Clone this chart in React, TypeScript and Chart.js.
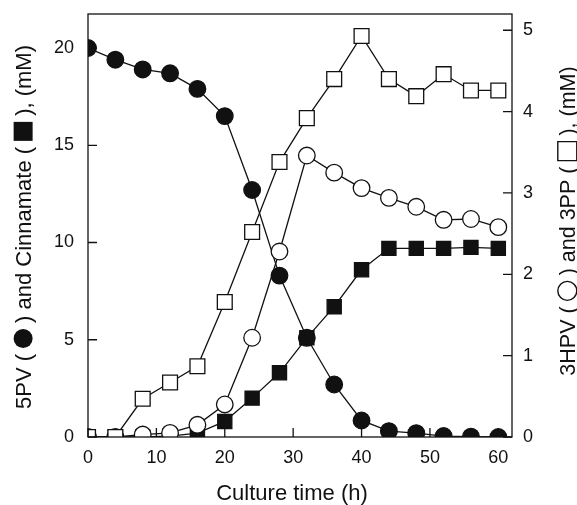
import React, { useEffect, useRef } from "react";
import { Chart, registerables } from "chart.js";

Chart.register(...registerables);

const timeH = [0, 4, 8, 12, 16, 20, 24, 28, 32, 36, 40, 44, 48, 52, 56, 60];
const pv5 = [20.0, 19.4, 18.9, 18.7, 17.9, 16.5, 12.7, 8.3, 5.1, 2.7, 0.85, 0.3, 0.2, 0.05, 0.02, 0.0];
const cinnamate = [0, 0, 0, 0.05, 0.2, 0.8, 2.0, 3.3, 5.1, 6.7, 8.6, 9.7, 9.7, 9.7, 9.75, 9.7];
const hpv3 = [0, 0, 0.03, 0.05, 0.15, 0.4, 1.22, 2.28, 3.46, 3.25, 3.06, 2.94, 2.83, 2.67, 2.68, 2.58];
const pp3 = [0, 0, 0.47, 0.67, 0.87, 1.66, 2.52, 3.38, 3.92, 4.4, 4.93, 4.4, 4.19, 4.46, 4.26, 4.26];

const xTicks = [0, 10, 20, 30, 40, 50, 60];
const leftTicks = [0, 5, 10, 15, 20];
const rightTicks = [0, 1, 2, 3, 4, 5];

const xTitle = "Culture time (h)";
// Axis titles: text pieces with the legend symbols drawn between them
const leftTitleParts: any[] = ["5PV (", { shape: "circle", fill: true }, ") and Cinnamate (", { shape: "square", fill: true }, "), (mM)"];
const rightTitleParts: any[] = ["3HPV (", { shape: "circle", fill: false }, ") and 3PP (", { shape: "square", fill: false }, "), (mM)"];

const FONT = "'Liberation Sans', Arial, sans-serif";
const INK = "#111";

const pts = (ys: number[]) => timeH.map((t, i) => ({ x: t, y: ys[i] }));

const SYM = 19;
const SYM_GAP = 6;

function drawRichTitle(ctx: any, parts: any[], cx: number, baseX: number, size: number) {
  ctx.save();
  ctx.font = `${size}px ${FONT}`;
  ctx.textAlign = "left";
  ctx.textBaseline = "alphabetic";
  const capH = size * 0.716;
  const widths = parts.map((p) => (typeof p === "string" ? ctx.measureText(p).width : SYM + 2 * SYM_GAP));
  const total = widths.reduce((a: number, b: number) => a + b, 0);
  ctx.translate(baseX, cx);
  ctx.rotate(-Math.PI / 2);
  let x = -total / 2;
  parts.forEach((p, i) => {
    if (typeof p === "string") {
      ctx.fillStyle = INK;
      ctx.fillText(p, x, 0);
    } else {
      const mx = x + SYM_GAP + SYM / 2;
      const my = -capH / 2;
      ctx.beginPath();
      if (p.shape === "circle") {
        ctx.arc(mx, my, SYM / 2, 0, Math.PI * 2);
      } else {
        ctx.rect(mx - SYM / 2, my - SYM / 2, SYM, SYM);
      }
      if (p.fill) {
        ctx.fillStyle = INK;
        ctx.fill();
      } else {
        ctx.strokeStyle = INK;
        ctx.lineWidth = 1.4;
        ctx.stroke();
      }
    }
    x += widths[i];
  });
  ctx.restore();
}

const framePlugin = {
  id: "frame",
  afterDraw(chart: any) {
    const { ctx, chartArea: a, scales } = chart;
    ctx.save();
    ctx.strokeStyle = INK;
    ctx.lineWidth = 1.3;
    ctx.strokeRect(a.left, a.top, a.right - a.left, a.bottom - a.top);
    ctx.beginPath();
    for (const v of xTicks) {
      const px = scales.x.getPixelForValue(v);
      ctx.moveTo(px, a.bottom);
      ctx.lineTo(px, a.bottom - 9);
    }
    for (const v of leftTicks) {
      const py = scales.y.getPixelForValue(v);
      ctx.moveTo(a.left, py);
      ctx.lineTo(a.left + 9, py);
    }
    for (const v of rightTicks) {
      const py = scales.y2.getPixelForValue(v);
      ctx.moveTo(a.right, py);
      ctx.lineTo(a.right - 9, py);
    }
    ctx.stroke();

    ctx.fillStyle = INK;
    ctx.font = `22px ${FONT}`;
    ctx.textAlign = "center";
    ctx.textBaseline = "alphabetic";
    ctx.fillText(xTitle, 292, 500);
    ctx.restore();

    drawRichTitle(ctx, leftTitleParts, 227, 31, 22);
    drawRichTitle(ctx, rightTitleParts, 221, 575, 21.5);
  },
};

const noPad = (s: any) => {
  s.paddingTop = 0;
  s.paddingBottom = 0;
  s.paddingLeft = 0;
  s.paddingRight = 0;
};

export default function App() {
  const ref = useRef<HTMLCanvasElement | null>(null);
  useEffect(() => {
    if (!ref.current) return;
    const common = {
      borderColor: INK,
      borderWidth: 1.3,
      pointBorderColor: INK,
      pointBorderWidth: 1.3,
      showLine: true,
      tension: 0,
    };
    const tickFont = { family: FONT, size: 18 };
    const chart = new Chart(ref.current, {
      type: "scatter",
      data: {
        datasets: [
          { ...common, label: "3PP", data: pts(pp3), yAxisID: "y2", pointStyle: "rect", pointRadius: 10.5, pointBackgroundColor: "#fff" },
          { ...common, label: "3HPV", data: pts(hpv3), yAxisID: "y2", pointStyle: "circle", pointRadius: 8.3, pointBackgroundColor: "#fff" },
          { ...common, label: "5PV", data: pts(pv5), yAxisID: "y", pointStyle: "circle", pointRadius: 8.3, pointBackgroundColor: INK },
          { ...common, label: "Cinnamate", data: pts(cinnamate), yAxisID: "y", pointStyle: "rect", pointRadius: 10, pointBackgroundColor: INK },
        ],
      },
      options: {
        responsive: false,
        animation: false,
        layout: { padding: { top: 14, left: 0, right: 0, bottom: 0 } },
        plugins: { legend: { display: false }, tooltip: { enabled: false } },
        scales: {
          x: {
            type: "linear",
            min: 0,
            max: 62,
            grid: { display: false, drawTicks: false },
            border: { display: false },
            ticks: { stepSize: 10, padding: 10, color: INK, font: tickFont },
            afterBuildTicks: (s: any) => { s.ticks = xTicks.map((v) => ({ value: v })); },
            afterFit: (s: any) => { s.height = 68; noPad(s); },
          },
          y: {
            type: "linear",
            position: "left",
            min: 0,
            max: 21.75,
            grid: { display: false, drawTicks: false },
            border: { display: false },
            ticks: { stepSize: 5, padding: 14, color: INK, font: tickFont },
            afterBuildTicks: (s: any) => { s.ticks = leftTicks.map((v) => ({ value: v })); },
            afterFit: (s: any) => { s.width = 88; noPad(s); },
          },
          y2: {
            type: "linear",
            position: "right",
            min: 0,
            max: 5.2,
            grid: { display: false, drawTicks: false },
            border: { display: false },
            ticks: { stepSize: 1, padding: 11, color: INK, font: tickFont },
            afterBuildTicks: (s: any) => { s.ticks = rightTicks.map((v) => ({ value: v })); },
            afterFit: (s: any) => { s.width = 65; noPad(s); },
          },
        },
      },
      plugins: [framePlugin],
    } as any);
    return () => chart.destroy();
  }, []);
  return (
    <div style={{ position: "absolute", left: 0, top: 0, width: 577, height: 505, background: "#fff" }}>
      <canvas ref={ref} width={577} height={505} />
    </div>
  );
}
